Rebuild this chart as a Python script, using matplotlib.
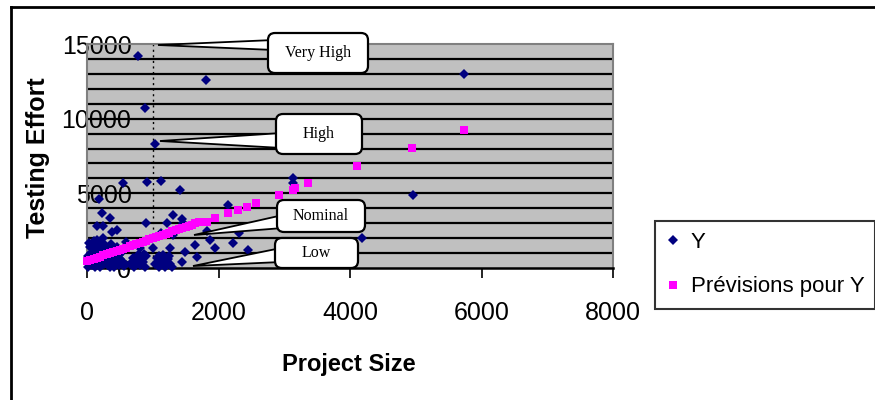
# Testing Effort vs Project Size (Y et Prévisions pour Y)
import numpy as np
import matplotlib.pyplot as plt
from matplotlib.lines import Line2D
from matplotlib.patches import FancyBboxPatch, Polygon
from matplotlib.transforms import Affine2D

# données observées (Y)
y_x = [776, 1809, 882, 1034, 912, 1125, 1414, 3131, 3131, 5730, 4955, 4180,
       547, 182, 228, 350, 152, 243, 456, 380, 897, 1307, 1444, 1216, 1460,
       2143, 2310, 2219, 2447, 1946, 1870, 1642, 1672, 1444, 1490, 1262, 1307,
       1003, 1125, 600, 810, 1825,
       20, 40, 60, 80, 100, 120, 140, 160, 180, 200, 220, 240, 260, 280, 300,
       320, 340, 360, 380, 400, 420, 440, 460, 480, 500, 520, 540, 560, 100,
       50, 150, 250, 300, 200, 120, 70, 350, 450, 30, 180,
       60, 110, 170, 230, 290, 330, 390, 430, 490, 530, 10, 90, 210, 270, 410,
       650, 700, 720, 750, 780, 800, 820, 850, 880, 900, 860, 700, 760, 840,
       1030, 1060, 1100, 1130, 1160, 1200, 1230, 1260, 1290, 1100, 1180, 1250]
y_y = [14200, 12590, 10710, 8300, 5760, 5830, 5220, 6030, 5700, 12990, 4890, 2010,
       5690, 4620, 3680, 3350, 2810, 2780, 2545, 2410, 3013, 3549, 3281, 3013, 3013,
       4219, 2344, 1674, 1205, 1339, 1875, 1540, 737, 402, 1071, 1339, 2210,
       1339, 2345, 1750, 1340, 2500,
       100, 300, 600, 200, 900, 1200, 400, 700, 1500, 100, 1000, 1700, 300, 600, 1300,
       200, 900, 1600, 500, 1100, 300, 800, 1400, 200, 600, 1000, 400, 150, 1800,
       1400, 1900, 2000, 500, 400, 50, 900, 50, 1000, 1700, 1100,
       1000, 1500, 300, 1300, 800, 1100, 700, 500, 900, 300, 800, 300, 600, 1500, 100,
       300, 700, 100, 500, 900, 200, 600, 400, 100, 800, 950, 250, 350, 700,
       300, 700, 100, 500, 900, 200, 600, 300, 100, 800, 50, 800]

# prévisions (points magenta)
p_x = [0, 50, 100, 150, 200, 250, 300, 350, 400, 450, 500, 550, 600, 650, 700,
       750, 800, 850, 900, 950, 1000, 1050, 1100, 1150, 1200, 1250, 1300, 1350,
       1400, 1450, 1500, 1550, 1600, 1650, 1700, 1824, 1946, 2143, 2295, 2432,
       2569, 2919, 3131, 3162, 3360, 4104, 4940, 5730]
p_y = [450, 530, 600, 680, 760, 840, 910, 990, 1070, 1140, 1220, 1300, 1370,
       1450, 1530, 1600, 1680, 1760, 1830, 1910, 1990, 2060, 2140, 2220, 2290,
       2370, 2450, 2520, 2600, 2680, 2750, 2830, 2910, 2980, 3060, 3080, 3348,
       3683, 3884, 4085, 4352, 4888, 5200, 5357, 5692, 6830, 8035, 9240]

x_ticks = [0, 2000, 4000, 6000, 8000]
y_ticks = [0, 5000, 10000, 15000]

# bulles : texte, boîte (x, y, l, h) et pointe, en pixels de l'image
callouts = [
    ('Very High', (268, 33, 100, 40), (158, 45), (40, 50)),
    ('High', (276, 114, 86, 40), (160, 141), (133, 148)),
    ('Nominal', (277, 200, 88, 32), (194, 235), (215, 228)),
    ('Low', (275, 238, 83, 30), (193, 266), (248, 262)),
]

fig = plt.figure(figsize=(8.75, 4.0), dpi=100)
ax = fig.add_axes([87 / 875, 1 - 268 / 400, (613 - 87) / 875, (268 - 44) / 400])
ax.set_facecolor('#c0c0c0')

ax.hlines(np.arange(1000, 15000, 1000), 0, 8000, colors='black', lw=1.6, zorder=1)
ax.vlines(1000, 0, 15000, colors='black', linestyles=(0, (1.5, 2.5)), lw=1, zorder=1)

ax.plot(y_x, y_y, 'D', color='#000080', ms=4.8, mew=0, zorder=3, clip_on=False)
ax.plot(p_x, p_y, 's', color='#ff00ff', ms=5.2, mew=0, zorder=4, clip_on=False)

ax.set_xlim(0, 8000)
ax.set_ylim(0, 15000)
ax.set_xticks(x_ticks)
ax.set_yticks(y_ticks)
ax.tick_params(axis='x', direction='out', length=7, width=1.2, pad=17,
               labelsize=18)
ax.tick_params(axis='y', length=0, pad=-32, labelsize=18)
for lab in ax.get_xticklabels() + ax.get_yticklabels():
    lab.set_fontfamily('Liberation Sans')
for s in ['left', 'top', 'right']:
    ax.spines[s].set_color('#808080')
    ax.spines[s].set_linewidth(1.5)
ax.spines['bottom'].set_linewidth(1.8)

# bulles de texte
px = Affine2D().scale(1 / 875, -1 / 400).translate(0, 1) + fig.transFigure
for txt, (bx, by, bw, bh), (tx, ty), (y1, y2) in callouts:
    fig.add_artist(Polygon([(tx, ty), (bx + 6, y1), (bx + 6, y2)], closed=True,
                           facecolor='white', edgecolor='black', lw=1.3,
                           transform=px, zorder=5))
    fig.add_artist(FancyBboxPatch((bx, by), bw, bh,
                                  boxstyle='round,pad=0,rounding_size=7',
                                  facecolor='white', edgecolor='black', lw=1.6,
                                  transform=px, zorder=6))
    fig.text((bx + bw / 2) / 875, 1 - (by + bh / 2) / 400, txt,
             family='Liberation Serif', fontsize=11.5, ha='center', va='center',
             zorder=7)

# titres des axes
fig.text(38 / 875, 1 - 158 / 400, 'Testing Effort', rotation=90, ha='center',
         va='center', fontsize=18, fontweight='bold', family='Liberation Sans')
fig.text(349 / 875, 1 - 364 / 400, 'Project Size', ha='center', va='center',
         fontsize=17, fontweight='bold', family='Liberation Sans')

# légende
handles = [Line2D([], [], ls='none', marker='D', color='#000080', ms=5, mew=0),
           Line2D([], [], ls='none', marker='s', color='#ff00ff', ms=5.5, mew=0)]
leg = fig.legend(handles, ['Y', 'Prévisions pour Y'], loc='upper left',
                 bbox_to_anchor=(655 / 875, 1 - 221 / 400), borderaxespad=0,
                 frameon=True, fancybox=False, handlelength=0.6,
                 handletextpad=0.5, labelspacing=1.05, borderpad=0.5,
                 prop={'family': 'Liberation Sans', 'size': 16})
leg.get_frame().set_edgecolor('black')
leg.get_frame().set_linewidth(1.5)

# cadre extérieur
fig.add_artist(Line2D([11 / 875, 1], [1 - 6.5 / 400, 1 - 6.5 / 400],
                      color='black', lw=2, transform=fig.transFigure))
fig.add_artist(Line2D([11 / 875, 11 / 875], [0, 1 - 6.5 / 400],
                      color='black', lw=2, transform=fig.transFigure))

fig.savefig('out.png', dpi=100)
